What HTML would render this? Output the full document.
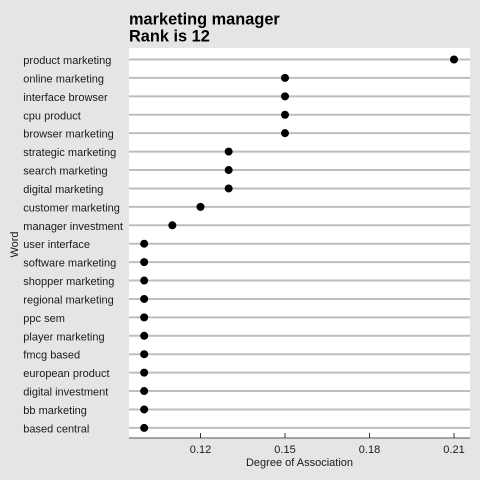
<!DOCTYPE html>
<html>
<head>
<meta charset="utf-8">
<style>
html,body{margin:0;padding:0;background:#e5e5e5;}
svg{display:block;font-family:"Liberation Sans",Arial,sans-serif;}
</style>
</head>
<body>
<svg id="chart" width="480" height="480" viewBox="0 0 480 480" xmlns="http://www.w3.org/2000/svg">
<rect x="0" y="0" width="480" height="480" fill="#e5e5e5"/>
<rect x="129" y="48" width="341" height="390" fill="#ffffff"/>
<text x="129" y="24.3" font-size="16.35" font-weight="bold" fill="#000">marketing manager</text>
<text x="129" y="41.7" font-size="16.35" font-weight="bold" fill="#000">Rank is 12</text>
<g id="rows"></g>
<g id="xaxis"></g>
<text x="299.5" y="466" font-size="11" text-anchor="middle" fill="#1a1a1a">Degree of Association</text>
<text transform="translate(18,244.5) rotate(-90)" font-size="11" text-anchor="middle" fill="#1a1a1a">Word</text>
</svg>
<script>
const words = ["product marketing","online marketing","interface browser","cpu product","browser marketing","strategic marketing","search marketing","digital marketing","customer marketing","manager investment","user interface","software marketing","shopper marketing","regional marketing","ppc sem","player marketing","fmcg based","european product","digital investment","bb marketing","based central"];
const values = [0.21,0.15,0.15,0.15,0.15,0.13,0.13,0.13,0.12,0.11,0.10,0.10,0.10,0.10,0.10,0.10,0.10,0.10,0.10,0.10,0.10];
const xTicks = [0.12,0.15,0.18,0.21];
const tickLabels = ["0.12","0.15","0.18","0.21"];

const NS = "http://www.w3.org/2000/svg";
function xScale(v){ return 200.5 + (v - 0.12) * (84.5 / 0.03); }
function yScale(i){ return 59.5 + i * 18.42; }
function make(tag, attrs, parent){
  const el = document.createElementNS(NS, tag);
  for (const k in attrs) el.setAttribute(k, attrs[k]);
  parent.appendChild(el);
  return el;
}
const rows = document.getElementById("rows");
const xaxis = document.getElementById("xaxis");
words.forEach(function(w, i){
  const y = yScale(i);
  const line = make("line", {x1:129, x2:470, y1:y, y2:y, stroke:"#bebebe", "stroke-width":2}, rows);
  
  
});
words.forEach(function(w, i){
  const y = yScale(i);
  const label = make("text", {x:23.3, y:y + 4.5, "font-size":11, fill:"#1a1a1a"}, rows);
  label.textContent = w;
  
  
  const dot = make("circle", {cx:xScale(values[i]), cy:y, r:4, fill:"#000"}, rows);
  
  
});
const axisLine = make("line", {x1:129, x2:470, y1:438, y2:438, stroke:"#555", "stroke-width":1}, xaxis);


xTicks.forEach(function(t, i){
  const x = xScale(t);
  const tick = make("line", {x1:x, x2:x, y1:433, y2:438, stroke:"#333", "stroke-width":1}, xaxis);
  
  
  const label = make("text", {x:x, y:453, "font-size":11, "text-anchor":"middle", fill:"#1a1a1a"}, xaxis);
  label.textContent = tickLabels[i];
  
  
});
</script>
</body>
</html>
